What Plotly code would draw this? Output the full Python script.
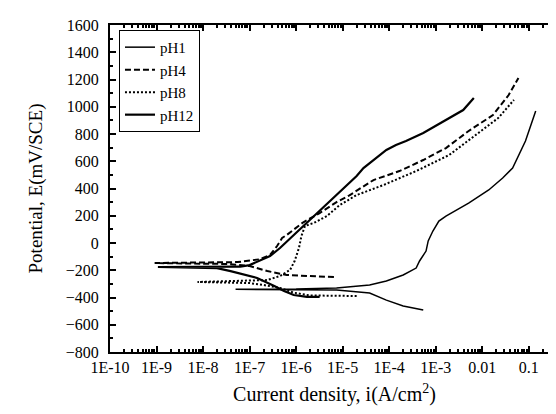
import plotly.graph_objects as go

# ---- data (current density A/cm2, potential mV/SCE), in scan order ----
ph1_i = [5.4e-4, 2.0e-4, 8.7e-5, 3.8e-5, 7.4e-6, 1.0e-6, 5.0e-8, 1.0e-6, 7.4e-6, 3.8e-5,
         8.7e-5, 2.0e-4, 3.8e-4, 4.5e-4, 6.2e-4, 6.9e-4, 8.7e-4, 1.17e-3, 1.66e-3, 5.1e-3,
         1.38e-2, 2.75e-2, 4.5e-2, 8.5e-2, 0.141]
ph1_e = [-492, -463, -419, -367, -345, -342, -340, -338, -330, -308,
         -279, -235, -184, -132, -59, 15, 88, 161, 198, 293,
         389, 477, 550, 749, 969]

ph4_i = [6.5e-6, 1.7e-6, 6.3e-7, 2.4e-7, 1.0e-7, 3.3e-8, 9.1e-10, 5.5e-8, 1.6e-7, 2.75e-7,
         3.9e-7, 5.0e-7, 6.3e-7, 1.4e-6, 3.2e-6, 7.4e-6, 1.4e-5, 4.6e-5, 1.66e-4, 5.4e-4,
         1.66e-3, 5.1e-3, 1.7e-2, 3.7e-2, 6.0e-2]
ph4_e = [-250, -242, -235, -206, -169, -154, -147, -140, -120, -88,
         -22, 37, 59, 150, 220, 300, 350, 462, 528, 609,
         697, 822, 939, 1086, 1211]

ph8_i = [2.0e-5, 7.4e-6, 2.0e-6, 9.0e-7, 4.5e-7, 2.0e-7, 1.0e-7, 7.6e-9, 1.0e-7, 2.4e-7,
         4.5e-7, 7.4e-7, 9.3e-7, 1.15e-6, 1.3e-6, 1.55e-6, 2.4e-6, 4.6e-6, 8.7e-6, 2.0e-5,
         7.6e-5, 3.8e-4, 1.95e-3, 7.2e-3, 2.2e-2, 4.8e-2]
ph8_e = [-389, -385, -385, -365, -330, -308, -294, -286, -272, -272,
         -242, -198, -132, -37, 51, 125, 147, 198, 279, 352,
         426, 528, 646, 793, 917, 1050]

ph12_i = [3.2e-6, 1.7e-6, 8.9e-7, 5.5e-7, 3.4e-7, 1.45e-7, 3.9e-8, 2.0e-8, 1.07e-9, 6.3e-8,
          1.0e-7, 2.75e-7, 4.5e-7, 8.9e-7, 1.7e-6, 3.2e-6, 8.7e-6, 2.0e-5, 2.8e-5, 8.7e-5,
          1.4e-4, 2.3e-4, 5.4e-4, 1.66e-3, 3.9e-3, 6.6e-3]
ph12_e = [-396, -396, -382, -352, -316, -257, -206, -184, -176, -174,
          -162, -96, -37, 59, 147, 235, 382, 492, 550, 683,
          719, 749, 807, 903, 976, 1064]

x_tickvals = [1e-10, 1e-9, 1e-8, 1e-7, 1e-6, 1e-5, 1e-4, 1e-3, 1e-2, 1e-1]
x_ticktext = ["1E-10", "1E-9", "1E-8", "1E-7", "1E-6", "1E-5", "1E-4", "1E-3", "0.01", "0.1"]
x_minor = [m * d for d in x_tickvals for m in range(2, 10)]

FONT = "Liberation Serif"

fig = go.Figure()
series = [
    ("pH1", ph1_i, ph1_e, dict(color="black", width=1.5)),
    ("pH4", ph4_i, ph4_e, dict(color="black", width=2, dash="6px,3px")),
    ("pH8", ph8_i, ph8_e, dict(color="black", width=2, dash="2px,2px")),
    ("pH12", ph12_i, ph12_e, dict(color="black", width=2.2)),
]
for name, xi, ye, ln in series:
    fig.add_trace(go.Scatter(x=xi, y=ye, mode="lines", name=name, line=ln))

axis_common = dict(
    showline=True, linecolor="black", linewidth=2, mirror="ticks",
    ticks="inside", tickcolor="black", tickwidth=2, ticklen=6,
    showgrid=False, zeroline=False,
    tickfont=dict(family=FONT, size=16, color="black"),
)

fig.update_layout(
    width=556, height=414,
    margin=dict(l=102, r=3, t=17, b=70),
    paper_bgcolor="white", plot_bgcolor="white",
    font=dict(family=FONT, color="black"),
    showlegend=True,
    legend=dict(
        x=0.02, y=0.985, xanchor="left", yanchor="top",
        bordercolor="black", borderwidth=1, bgcolor="white",
        font=dict(family=FONT, size=15, color="black"),
        tracegroupgap=0, itemwidth=30,
    ),
    xaxis=dict(
        type="log", range=[-10, -0.35],
        tickmode="array", tickvals=x_tickvals, ticktext=x_ticktext,
        minor=dict(ticks="inside", tickvals=x_minor, ticklen=3, tickcolor="black", tickwidth=2, showgrid=False),
        title=dict(text="Current density, i(A/cm<sup>2</sup>)", font=dict(family=FONT, size=20, color="black"), standoff=12),
        **axis_common,
    ),
    yaxis=dict(
        range=[-800, 1600], tickmode="linear", tick0=-800, dtick=200,
        minor=dict(ticks="inside", dtick=100, ticklen=3, tickcolor="black", tickwidth=2, showgrid=False),
        title=dict(text="Potential, E(mV/SCE)", font=dict(family=FONT, size=19, color="black"), standoff=18),
        ticklabelstandoff=6,
        **axis_common,
    ),
)

fig.write_html("out.html")
